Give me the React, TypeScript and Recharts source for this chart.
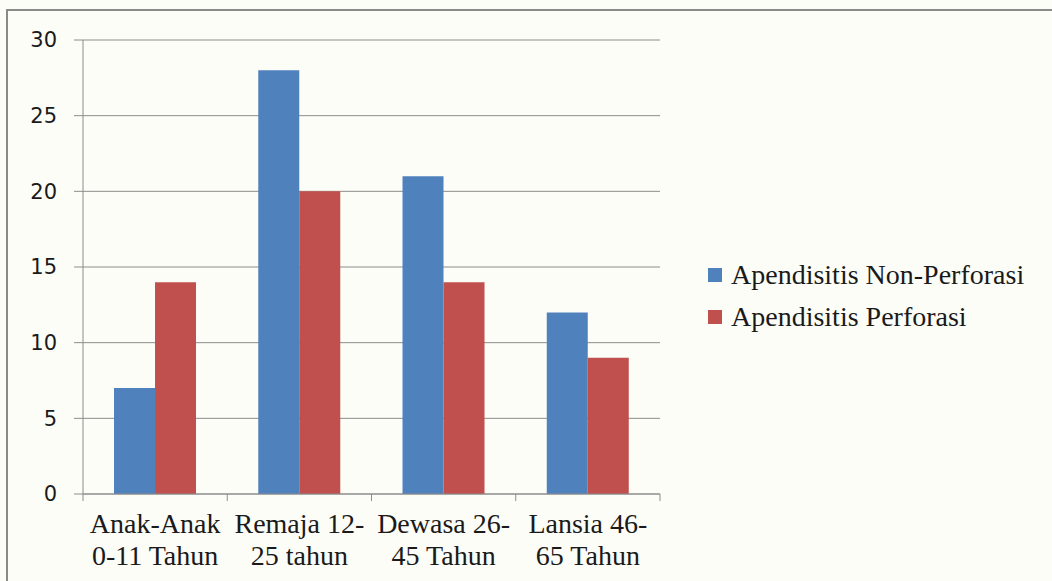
import { BarChart, Bar, XAxis, YAxis, CartesianGrid, Legend } from "recharts";

const categories = [
  "Anak-Anak 0-11 Tahun",
  "Remaja 12-25 tahun",
  "Dewasa 26-45 Tahun",
  "Lansia 46-65 Tahun",
];
const tickLines: [string, string][] = [
  ["Anak-Anak", "0-11 Tahun"],
  ["Remaja 12-", "25 tahun"],
  ["Dewasa 26-", "45 Tahun"],
  ["Lansia 46-", "65 Tahun"],
];
const nonPerforasi = [7, 28, 21, 12];
const perforasi = [14, 20, 14, 9];
const yTicks = [0, 5, 10, 15, 20, 25, 30];

const data = categories.map((name, i) => ({
  name,
  nonPerforasi: nonPerforasi[i],
  perforasi: perforasi[i],
}));

const BLUE = "#4f81bd";
const RED = "#c0504d";
const AXIS = "#8c8c8c";
const SERIF = "Liberation Serif";

const W = 1052;
const H = 581;
const PLOT_LEFT = 83;
const PLOT_RIGHT = 660;
const PLOT_BOTTOM = 494;
const BAND = (PLOT_RIGHT - PLOT_LEFT) / categories.length;

const CategoryTick = (props: any) => {
  const { x, y, index } = props;
  const lines = tickLines[index] || [];
  return (
    <g>
      <line x1={x - BAND / 2} y1={PLOT_BOTTOM} x2={x - BAND / 2} y2={PLOT_BOTTOM + 7} stroke={AXIS} />
      {index === categories.length - 1 && (
        <line x1={x + BAND / 2} y1={PLOT_BOTTOM} x2={x + BAND / 2} y2={PLOT_BOTTOM + 7} stroke={AXIS} />
      )}
      <text textAnchor="middle" style={{ fontFamily: SERIF }} fontSize={28} fill="#1a1a1a">
        <tspan x={x} y={PLOT_BOTTOM + 39}>{lines[0]}</tspan>
        <tspan x={x} y={PLOT_BOTTOM + 71}>{lines[1]}</tspan>
      </text>
    </g>
  );
};

const LegendBox = (props: any) => {
  const { payload } = props;
  return (
    <div style={{ fontFamily: SERIF, fontSize: 28, color: "#1a1a1a", lineHeight: "42px" }}>
      {(payload || []).map((p: any) => (
        <div key={p.value} style={{ display: "flex", alignItems: "center", height: 42, whiteSpace: "nowrap" }}>
          <span style={{ width: 14, height: 14, background: p.color, marginRight: 9, display: "inline-block" }} />
          <span style={{ fontFamily: SERIF }}>{p.value}</span>
        </div>
      ))}
    </div>
  );
};

export default function App() {
  return (
    <div style={{ position: "absolute", left: 0, top: 0, width: W, height: H, background: "#fdfdf7", overflow: "hidden" }}>
      <div
        style={{
          position: "absolute",
          left: 6,
          top: 9,
          width: W,
          height: H,
          borderLeft: "2px solid #8a8a8a",
          borderTop: "2px solid #8a8a8a",
        }}
      />
      <div style={{ position: "absolute", left: 0, top: 0 }}>
        <BarChart
          width={W}
          height={H}
          data={data}
          margin={{ top: 40, right: W - PLOT_RIGHT, bottom: 0, left: 0 }}
          barCategoryGap="21.5%"
          barGap={0}
        >
          <CartesianGrid vertical={false} stroke={AXIS} strokeWidth={1} />
          <XAxis
            dataKey="name"
            axisLine={{ stroke: AXIS }}
            tickLine={false}
            tick={<CategoryTick />}
            interval={0}
            height={H - PLOT_BOTTOM}
          />
          <YAxis
            width={PLOT_LEFT}
            domain={[0, 30]}
            ticks={yTicks}
            axisLine={{ stroke: AXIS }}
            tickLine={{ stroke: AXIS }}
            tickSize={9}
            tickMargin={17}
            tick={{ fontFamily: "DejaVu Sans", fontSize: 21, fill: "#1a1a1a" }}
          />
          <Legend
            layout="vertical"
            align="center"
            verticalAlign="middle"
            content={<LegendBox />}
            wrapperStyle={{ left: 708, top: 254, width: 340 }}
          />
          <Bar dataKey="nonPerforasi" name="Apendisitis Non-Perforasi" fill={BLUE} isAnimationActive={false} />
          <Bar dataKey="perforasi" name="Apendisitis Perforasi" fill={RED} isAnimationActive={false} />
        </BarChart>
      </div>
    </div>
  );
}
